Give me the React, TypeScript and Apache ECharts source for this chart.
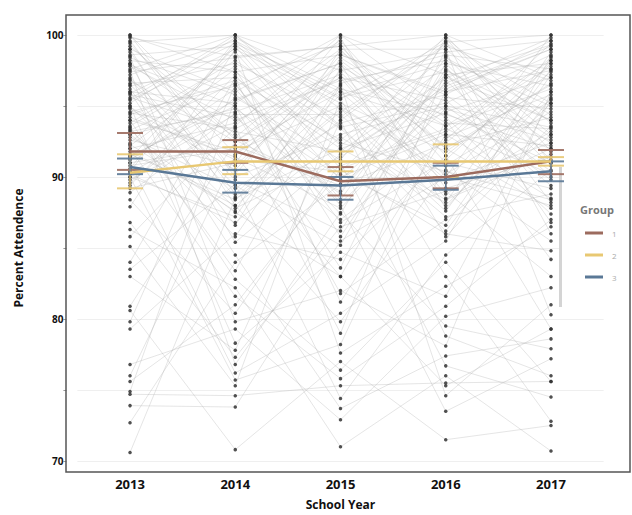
import React, { useEffect, useRef } from "react";
import * as echarts from "echarts";

const years = ["2013", "2014", "2015", "2016", "2017"];
const yTickValues = [70, 80, 90, 100];

// individual students: attendance 2013..2017
const lowStudents: number[][] = [
  [70.6, 88.5, 92.0, 94.5, 91.0],
  [72.7, 84.0, 89.5, 95.0, 93.5],
  [73.9, 73.8, 85.5, 90.0, 88.0],
  [74.7, 74.6, 75.3, 75.5, 75.6],
  [74.9, 95.5, 98.0, 92.0, 96.5],
  [75.6, 81.0, 90.5, 86.0, 84.8],
  [76.0, 91.5, 83.0, 96.0, 97.5],
  [76.8, 79.3, 72.9, 80.2, 82.2],
  [79.3, 86.0, 84.2, 91.5, 79.3],
  [79.8, 96.5, 88.0, 73.5, 77.2],
  [80.6, 70.8, 77.0, 71.5, 72.5],
  [80.9, 92.5, 97.0, 88.5, 92.0],
  [83.0, 77.8, 94.0, 78.8, 76.0],
  [83.5, 89.5, 74.4, 84.5, 90.5],
  [84.0, 97.0, 81.2, 93.0, 88.5],
  [85.1, 75.3, 95.5, 83.0, 72.8],
  [85.8, 93.5, 79.0, 97.5, 94.0],
  [86.3, 82.2, 71.0, 76.0, 70.7],
  [86.8, 77.3, 86.5, 89.0, 83.0],
  [87.9, 99.0, 77.6, 82.3, 86.5],
  [88.4, 80.4, 91.0, 76.7, 74.5],
  [88.9, 94.5, 83.6, 99.0, 80.3],
  [91.0, 76.2, 80.4, 85.5, 98.5],
  [93.5, 83.4, 96.5, 74.6, 81.0],
  [95.0, 78.3, 84.7, 81.6, 95.5],
  [97.5, 76.8, 87.5, 79.5, 77.9],
  [90.0, 75.7, 78.2, 94.0, 84.2],
  [92.0, 81.6, 75.8, 80.9, 87.0],
  [96.0, 84.5, 73.7, 77.4, 78.6],
  [98.5, 79.8, 82.0, 78.1, 96.0],
  [94.0, 82.8, 76.4, 84.0, 75.6],
  [99.0, 88.0, 79.8, 90.5, 85.5],
  [91.5, 95.0, 81.8, 87.0, 93.0],
  [93.0, 87.5, 83.0, 75.3, 79.3],
];

const highStudents: number[][] = [
  [99.8, 98.5, 99.2, 100, 97.0],
  [99.5, 100, 97.5, 98.8, 99.6],
  [99.0, 96.0, 100, 97.2, 98.0],
  [98.6, 99.2, 95.5, 99.5, 100],
  [98.2, 97.4, 98.6, 96.0, 99.0],
  [97.8, 94.0, 96.8, 98.2, 95.0],
  [97.2, 99.6, 93.5, 95.2, 98.6],
  [96.8, 92.5, 97.8, 93.6, 96.2],
  [96.4, 98.0, 94.2, 99.8, 93.8],
  [96.0, 95.2, 99.6, 91.5, 97.4],
  [95.6, 93.2, 91.8, 97.0, 99.3],
  [95.2, 99.8, 96.2, 94.4, 92.0],
  [94.8, 90.5, 98.2, 92.8, 95.8],
  [94.4, 96.8, 92.6, 98.5, 91.2],
  [94.0, 91.8, 95.0, 90.2, 94.6],
  [93.6, 97.8, 89.8, 96.6, 99.8],
  [93.2, 94.6, 97.2, 88.8, 93.2],
  [92.8, 89.2, 93.8, 95.8, 90.4],
  [92.4, 98.8, 90.6, 93.2, 97.8],
  [92.0, 93.8, 99.0, 91.0, 89.2],
  [91.6, 88.4, 94.6, 99.2, 96.8],
  [91.2, 96.2, 88.2, 94.8, 92.6],
  [90.8, 92.0, 96.0, 89.6, 98.2],
  [90.4, 99.4, 92.2, 97.8, 88.2],
  [90.0, 87.2, 97.6, 92.2, 94.2],
  [89.6, 95.6, 91.2, 100, 91.8],
  [89.2, 91.0, 99.8, 87.8, 96.0],
  [99.6, 90.0, 93.0, 95.0, 89.8],
  [99.2, 93.0, 87.0, 92.6, 99.4],
  [98.8, 88.8, 95.8, 98.0, 90.8],
  [98.4, 95.8, 90.2, 86.6, 97.2],
  [98.0, 92.8, 98.8, 94.2, 87.4],
  [97.6, 100, 94.8, 90.8, 95.4],
  [97.0, 89.8, 86.2, 97.6, 92.8],
  [96.6, 97.0, 92.0, 88.2, 98.8],
  [96.2, 86.6, 98.4, 93.8, 93.4],
  [95.8, 94.2, 88.8, 99.6, 86.0],
  [95.4, 99.0, 95.2, 91.8, 96.6],
  [95.0, 87.8, 91.4, 96.4, 99.2],
  [94.6, 96.4, 99.4, 89.2, 91.4],
  [94.2, 91.4, 87.8, 95.6, 94.8],
  [93.8, 98.2, 93.4, 87.2, 88.8],
  [93.4, 85.8, 96.6, 98.6, 97.6],
  [93.0, 94.8, 90.0, 93.0, 92.2],
  [92.6, 90.8, 97.4, 90.0, 100],
  [92.2, 97.6, 85.8, 96.8, 90.0],
  [91.8, 88.0, 94.0, 99.4, 95.2],
  [91.4, 95.4, 98.0, 85.8, 93.6],
  [91.0, 92.2, 89.4, 92.4, 98.4],
  [90.6, 99.6, 95.6, 97.4, 86.8],
  [90.2, 86.8, 92.8, 88.4, 91.6],
  [89.8, 93.6, 100, 94.6, 97.0],
  [89.4, 97.2, 88.4, 98.4, 94.4],
  [99.4, 91.6, 96.4, 89.8, 92.4],
  [98.0, 85.4, 91.6, 96.2, 99.0],
  [97.4, 98.4, 99.2, 92.0, 87.8],
  [96.5, 89.4, 85.2, 98.0, 96.4],
  [95.5, 100, 93.6, 86.2, 95.6],
  [94.5, 93.4, 97.0, 95.4, 89.4],
  [93.3, 96.6, 86.8, 91.2, 98.0],
  [92.3, 87.6, 99.0, 99.0, 93.0],
  [91.3, 99.2, 90.8, 93.4, 90.2],
  [90.3, 94.4, 94.4, 87.6, 97.6],
  [100, 92.6, 89.0, 97.0, 94.0],
  [99.9, 97.4, 92.4, 90.4, 88.4],
  [100, 90.2, 98.6, 95.8, 99.6],
  [97.9, 95.0, 87.4, 99.8, 91.0],
  [96.9, 88.6, 94.8, 88.0, 95.2],
  [95.9, 99.4, 96.0, 93.6, 98.2],
  [94.9, 91.2, 90.4, 97.2, 92.4],
];

const groupNames = ["1", "2", "3"];
const groupColors = ["#9c6b5e", "#e8c872", "#5a7896"];
const groupMeans: number[][] = [
  [91.8, 91.8, 89.7, 90.0, 91.1],
  [90.3, 91.1, 91.1, 91.1, 91.1],
  [90.7, 89.6, 89.4, 89.8, 90.4],
];
const groupLow: number[][] = [
  [90.5, 91.0, 88.7, 89.2, 90.2],
  [89.2, 90.2, 90.4, 90.0, 90.8],
  [90.2, 88.9, 88.4, 89.1, 89.7],
];
const groupHigh: number[][] = [
  [93.1, 92.6, 90.7, 91.0, 91.9],
  [91.6, 92.1, 91.8, 92.3, 91.4],
  [91.3, 90.5, 90.0, 90.8, 91.1],
];

const FONT = "'Open Sans', 'Noto Sans', sans-serif";

export default function App() {
  const ref = useRef<HTMLDivElement>(null);
  useEffect(() => {
    if (!ref.current) return;
    const chart = echarts.init(ref.current, null, { renderer: "svg" });
    const students = [...lowStudents, ...highStudents];

    const studentSeries = students.map((s, i) => ({
      type: "line",
      name: "s" + i,
      data: s,
      symbol: "none",
      silent: true,
      z: 1,
      lineStyle: { color: "rgba(175,175,175,0.32)", width: 1 },
    }));

    const dots: number[][] = [];
    students.forEach((s) => s.forEach((v, j) => dots.push([j, v])));

    const meanSeries = groupNames.map((g, gi) => ({
      type: "line",
      name: g,
      data: groupMeans[gi],
      symbol: "none",
      z: 10,
      lineStyle: { color: groupColors[gi], width: 2.5 },
      itemStyle: { color: groupColors[gi] },
    }));

    const errSeries = groupNames.map((g, gi) => ({
      type: "custom",
      name: "err" + g,
      silent: true,
      z: 9,
      data: years.map((_, j) => [j, groupLow[gi][j], groupHigh[gi][j]]),
      renderItem: (params: any, api: any) => {
        const x = api.value(0);
        const lo = api.coord([x, api.value(1)]);
        const hi = api.coord([x, api.value(2)]);
        const hw = 13;
        const style = { stroke: groupColors[gi], lineWidth: 2, opacity: 0.9 };
        return {
          type: "group",
          children: [
            { type: "line", shape: { x1: lo[0], y1: lo[1], x2: hi[0], y2: hi[1] }, style: { ...style, lineWidth: 1.5 } },
            { type: "line", shape: { x1: lo[0] - hw, y1: lo[1], x2: lo[0] + hw, y2: lo[1] }, style },
            { type: "line", shape: { x1: hi[0] - hw, y1: hi[1], x2: hi[0] + hw, y2: hi[1] }, style },
          ],
        };
      },
    }));

    chart.setOption({
      animation: false,
      textStyle: { fontFamily: FONT },
      grid: { left: 77.4, right: 28.4, top: 35, bottom: 53 },
      xAxis: {
        type: "category",
        data: years,
        offset: 10,
        axisLine: { show: false },
        axisTick: { show: false },
        axisLabel: { margin: 6, fontSize: 13, fontWeight: "bold", color: "#111", fontFamily: FONT },
        name: "School Year",
        nameLocation: "middle",
        nameGap: 27,
        nameTextStyle: { fontSize: 12, fontWeight: "bold", color: "#111", fontFamily: FONT },
        splitLine: { show: false },
      },
      yAxis: {
        type: "value",
        min: 70,
        max: 100,
        interval: 5,
        offset: 11,
        axisLine: { show: false },
        axisTick: { show: true, length: 3, lineStyle: { color: "#999" } },
        axisLabel: {
          margin: 3,
          fontSize: 10,
          fontWeight: "bold",
          color: "#111",
          fontFamily: FONT,
          formatter: (v: number) => (yTickValues.includes(v) ? String(v) : ""),
        },
        splitLine: { show: true, lineStyle: { color: "#efefef", width: 1 } },
        name: "Percent Attendence",
        nameLocation: "middle",
        nameGap: 42,
        nameRotate: 90,
        nameTextStyle: { fontSize: 12, fontWeight: "bold", color: "#111", fontFamily: FONT },
      },
      legend: {
        data: groupNames.map((n) => ({ name: n, icon: "rect" })),
        orient: "vertical",
        left: 580,
        top: 221,
        itemWidth: 18,
        itemHeight: 3,
        itemGap: 8,
        textStyle: { fontSize: 8, color: "#aaa", fontFamily: FONT, lineHeight: 14, padding: [0, 0, 0, 4] },
        z: 6,
      },
      graphic: [
        {
          type: "rect",
          shape: { x: 66, y: 15, width: 564, height: 457 },
          style: { fill: "none", stroke: "#555", lineWidth: 1.5 },
          z: 5,
          silent: true,
        },
        {
          type: "rect",
          shape: { x: 560, y: 167, width: 62, height: 140 },
          style: { fill: "#fff" },
          z: 3,
          silent: true,
        },
        {
          type: "rect",
          shape: { x: 559, y: 167, width: 3, height: 140 },
          style: { fill: "#d4d4d4" },
          z: 3,
          silent: true,
        },
        {
          type: "text",
          x: 580,
          y: 204,
          style: { text: "Group", fontSize: 11, fontWeight: "bold", fill: "#777", fontFamily: FONT },
          z: 6,
          silent: true,
        },
      ],
      series: [
        ...studentSeries,
        {
          type: "scatter",
          name: "points",
          data: dots,
          symbolSize: 3.5,
          silent: true,
          z: 4,
          itemStyle: { color: "#333", opacity: 0.85 },
        },
        ...errSeries,
        ...meanSeries,
      ],
    } as any);
    return () => chart.dispose();
  }, []);
  return <div ref={ref} style={{ width: 632, height: 515, position: "absolute", left: 0, top: 0 }} />;
}
